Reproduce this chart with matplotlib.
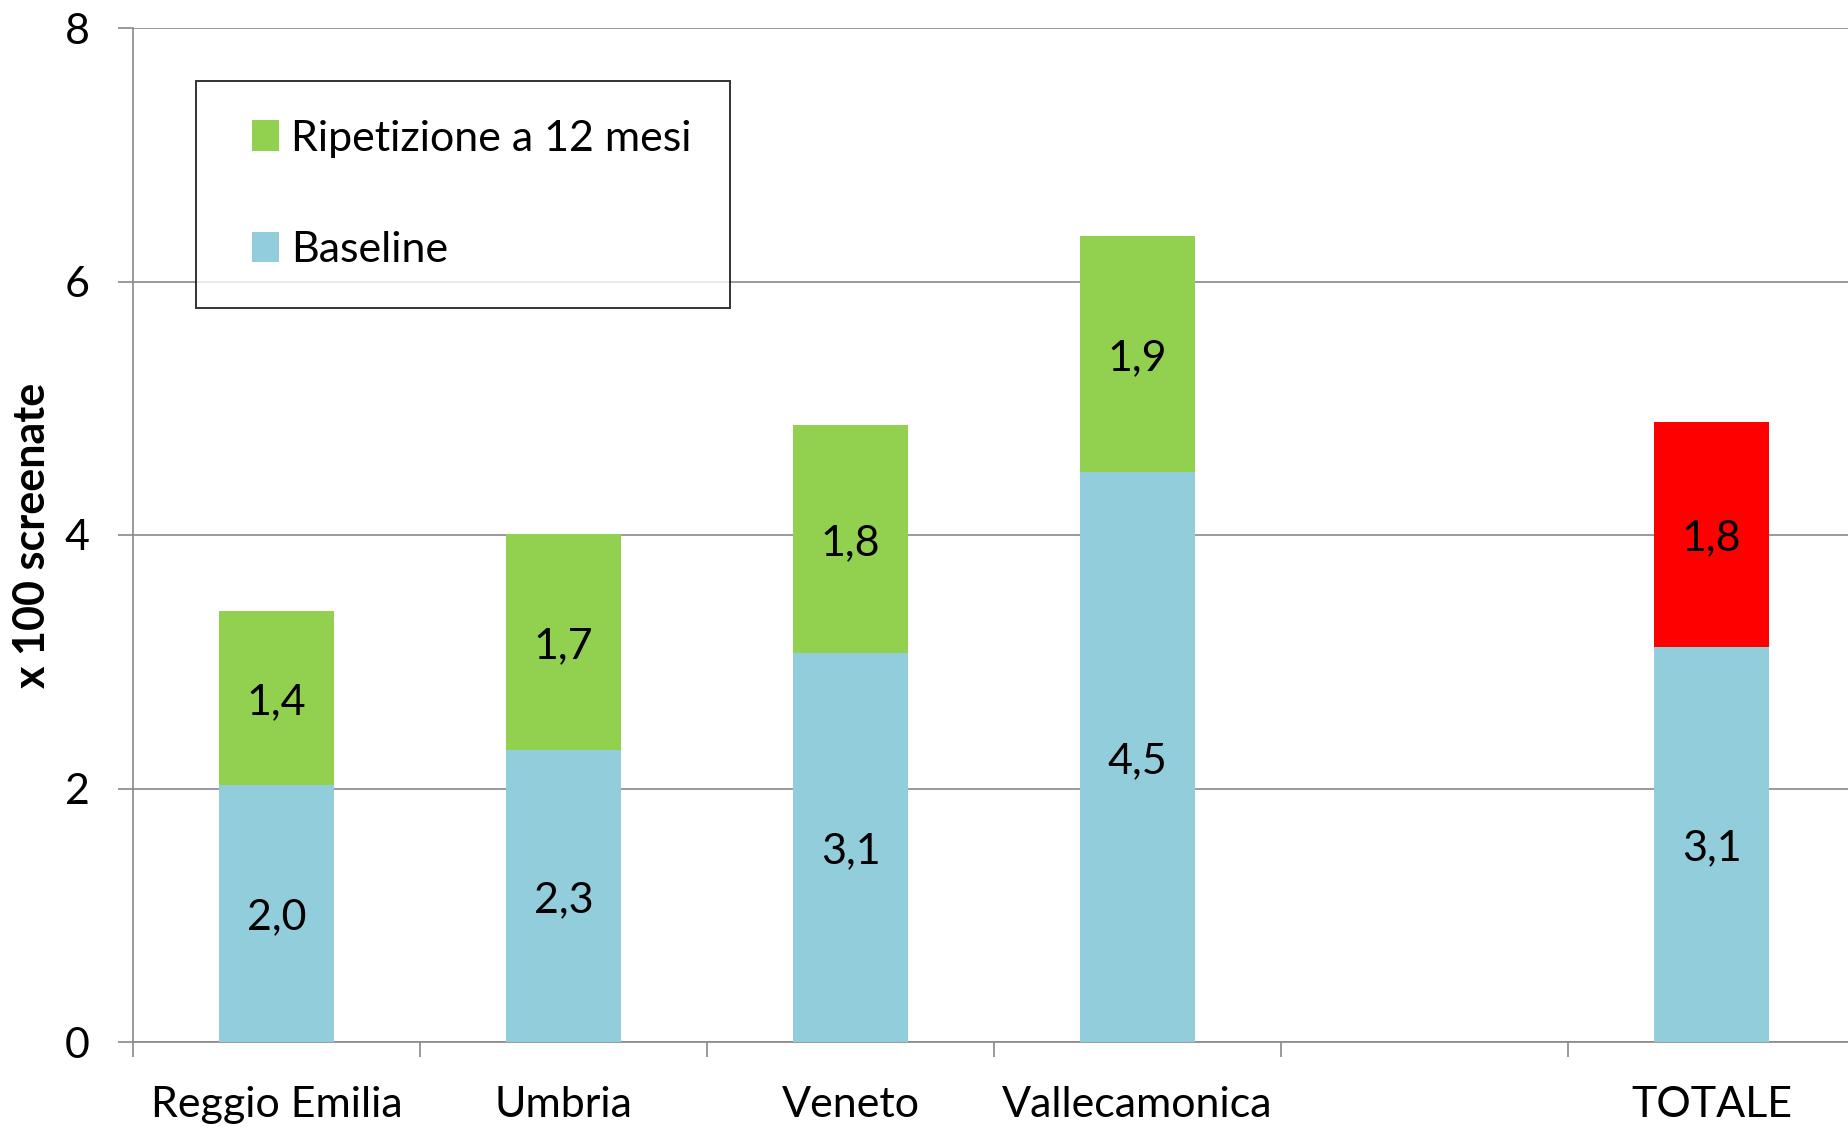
import matplotlib
matplotlib.use("Agg")
import matplotlib.pyplot as plt
from matplotlib.patches import Patch, Rectangle
from matplotlib.legend_handler import HandlerPatch

categories = ["Reggio Emilia", "Umbria", "Veneto", "Vallecamonica", "", "TOTALE"]
baseline = [2.03, 2.30, 3.07, 4.50, 0.0, 3.12]
ripetizione = [1.37, 1.71, 1.80, 1.86, 0.0, 1.77]
series_names = ["Ripetizione a 12 mesi", "Baseline"]
y_ticks = [0, 2, 4, 6, 8]
y_label = "x 100 screenate"

BLUE = "#92CDDC"
GREEN = "#92D050"
RED = "#FF0000"
GRID = "#898989"
FONT = "Lato"
FS = 31

plt.rcParams["font.family"] = [FONT, "DejaVu Sans"]

fig = plt.figure(figsize=(18.49, 11.27), dpi=100)
ax = fig.add_axes([133 / 1849, 85 / 1127, 1722 / 1849, 1014 / 1127])

x = list(range(len(categories)))
top_colors = [RED if c == "TOTALE" else GREEN for c in categories]
bw = 0.4
for xi, b, r, col, cat in zip(x, baseline, ripetizione, top_colors, categories):
    if cat == "":
        continue
    ax.bar(xi, b, width=bw, color=BLUE, zorder=3, linewidth=0)
    ax.bar(xi, r, bottom=b, width=bw, color=col, zorder=3, linewidth=0)
    ax.annotate(f"{b:.1f}".replace(".", ","), (xi, b / 2), xytext=(0, -3),
                textcoords="offset points", ha="center", va="center",
                fontsize=FS, zorder=4)
    ax.annotate(f"{r:.1f}".replace(".", ","), (xi, b + r / 2), xytext=(0, -3),
                textcoords="offset points", ha="center", va="center",
                fontsize=FS, zorder=4)

ax.set_xlim(-0.5, len(categories) - 0.5)
ax.set_ylim(0, 8)
ax.set_yticks(y_ticks)
ax.set_yticklabels([str(v) for v in y_ticks], fontsize=FS)
ax.yaxis.grid(True, color=GRID, linewidth=1.2, zorder=0)
ax.set_axisbelow(True)

ax.set_xticks([i - 0.5 for i in range(len(categories))])
ax.set_xticklabels([])
ax.set_xticks(x, minor=True)
ax.set_xticklabels(categories, minor=True, fontsize=FS)
ax.tick_params(axis="x", which="major", length=11, width=1.2, color=GRID, direction="out")
ax.tick_params(axis="x", which="minor", length=0, pad=32)
ax.tick_params(axis="y", length=11, width=1.2, color=GRID, pad=20)

for s in ["top", "right"]:
    ax.spines[s].set_visible(False)
for s in ["left", "bottom"]:
    ax.spines[s].set_color(GRID)
    ax.spines[s].set_linewidth(1.2)

ax.set_ylabel(y_label, fontsize=FS, fontweight="bold", labelpad=9)


def square_right(legend, orig_handle, xdescent, ydescent, width, height, fontsize):
    w = 19.5
    return Rectangle((-xdescent + width - w, -ydescent), w, height)


handles = [Patch(facecolor=GREEN, edgecolor="none"), Patch(facecolor=BLUE, edgecolor="none")]
leg = ax.legend(handles, series_names, loc="upper left",
                bbox_to_anchor=(196 / 1849, 1 - 81 / 1127), bbox_transform=fig.transFigure,
                fontsize=FS, frameon=True, fancybox=False, borderpad=0.9,
                labelspacing=1.7, handlelength=1.02, handleheight=0.72,
                handletextpad=0.28, borderaxespad=0,
                handler_map={Patch: HandlerPatch(patch_func=square_right)})
leg.get_frame().set_edgecolor("black")
leg.get_frame().set_linewidth(1.4)
leg.set_zorder(5)

fig.savefig("out.png", dpi=100, facecolor="white")
